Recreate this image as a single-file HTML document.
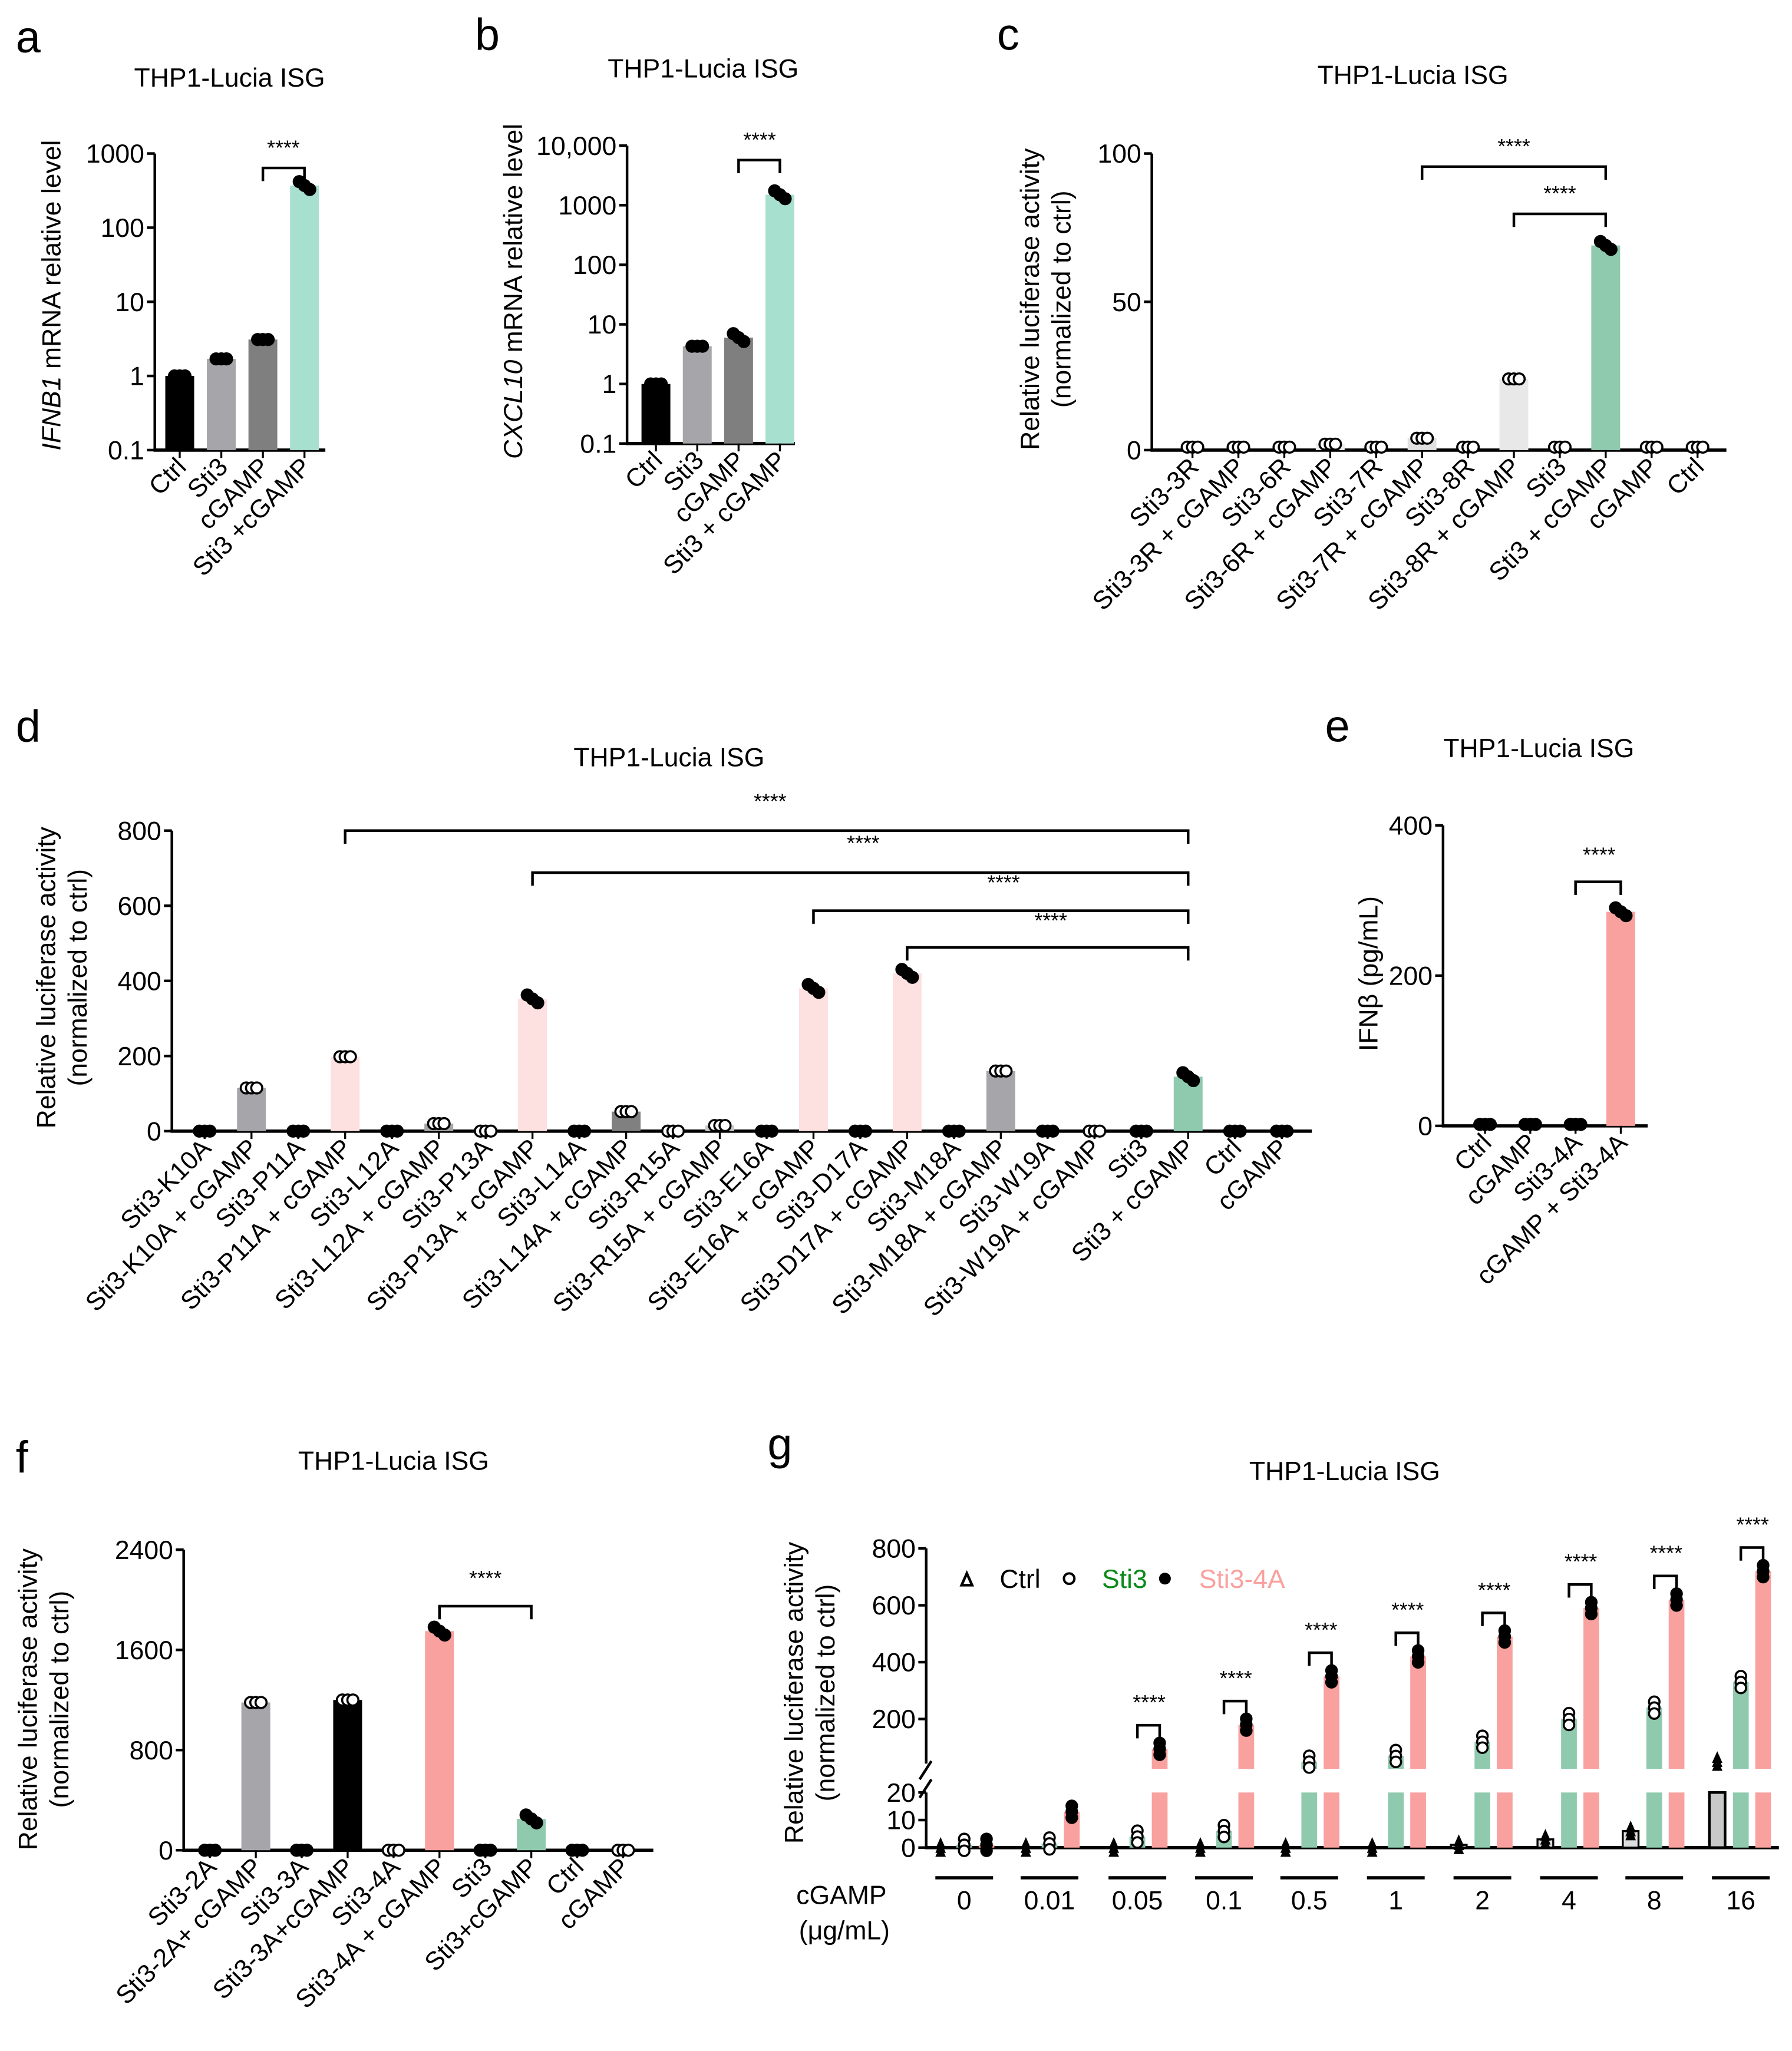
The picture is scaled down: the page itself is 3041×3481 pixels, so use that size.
<!DOCTYPE html>
<html><head><meta charset="utf-8"><style>
html,body{margin:0;padding:0;background:#fff}
svg{display:block}
text{font-family:"Liberation Sans",Arial,sans-serif}
</style></head><body>
<svg id="fig" width="3041" height="3481" viewBox="0 0 1366 1563" preserveAspectRatio="none" xmlns="http://www.w3.org/2000/svg"></svg>
<script>
// ---- data ----
const aCats=["Ctrl","Sti3","cGAMP","Sti3 +cGAMP"];
const aVals=[1.0,1.7,3.1,370];
const bCats=["Ctrl","Sti3","cGAMP","Sti3 + cGAMP"];
const bVals=[1.0,4.3,6.0,1500];
const cCats=["Sti3-3R","Sti3-3R + cGAMP","Sti3-6R","Sti3-6R + cGAMP","Sti3-7R","Sti3-7R + cGAMP","Sti3-8R","Sti3-8R + cGAMP","Sti3","Sti3 + cGAMP","cGAMP","Ctrl"];
const cVals=[1,1,1,2,1,4,1,24,1,69,1,1];
const dCats=["Sti3-K10A","Sti3-K10A + cGAMP","Sti3-P11A","Sti3-P11A + cGAMP","Sti3-L12A","Sti3-L12A + cGAMP","Sti3-P13A","Sti3-P13A + cGAMP","Sti3-L14A","Sti3-L14A + cGAMP","Sti3-R15A","Sti3-R15A + cGAMP","Sti3-E16A","Sti3-E16A + cGAMP","Sti3-D17A","Sti3-D17A + cGAMP","Sti3-M18A","Sti3-M18A + cGAMP","Sti3-W19A","Sti3-W19A + cGAMP","Sti3","Sti3 + cGAMP","Ctrl","cGAMP"];
const dVals=[0,115,0,198,0,20,0,352,0,52,0,15,0,380,0,420,0,160,0,0,0,145,0,0];
const eCats=["Ctrl","cGAMP","Sti3-4A","cGAMP + Sti3-4A"];
const eVals=[2,2,2,285];
const fCats=["Sti3-2A","Sti3-2A+ cGAMP","Sti3-3A","Sti3-3A+cGAMP","Sti3-4A","Sti3-4A + cGAMP","Sti3","Sti3+cGAMP","Ctrl","cGAMP"];
const fVals=[0,1180,0,1200,0,1750,0,250,0,0];
const gDoses=["0","0.01","0.05","0.1","0.5","1","2","4","8","16"];
const gCtrl=[0,0,0,0,0,0,1,3,6,50];
const gSti3=[1,1.5,4,6,50,70,120,200,240,330];
const gSti4A=[1,13,95,180,350,420,490,590,620,720];
const aTicks=["0.1","1","10","100","1000"];
const bTicks=["0.1","1","10","100","1000","10,000"];

const NS="http://www.w3.org/2000/svg";
const svg=document.getElementById('fig');
function el(tag,attrs,parent){const e=document.createElementNS(NS,tag);for(const k in attrs)e.setAttribute(k,attrs[k]);(parent||svg).appendChild(e);return e;}
function txt(x,y,s,size,anchor,parent,extra){const t=el('text',Object.assign({x:x,y:y,'font-size':size,'text-anchor':anchor||'middle',fill:'#000'},extra||{}),parent);t.textContent=s;return t;}
function group(name){const g=el('g',{});return g;}
const TK=20, XL=19.5, TT=20, YL=20;

function panel(o){
  const g=group('panel-'+o.id);
  const L=txt(o.letterX,o.letterY,o.id,34,'start',g);
  
  const T=txt(o.titleX,o.titleY,'THP1-Lucia ISG',TT,'middle',g);
  
  const ya=el('line',{x1:o.ax,y1:o.yTop,x2:o.ax,y2:o.yBot,stroke:'#000','stroke-width':2},g);
  
  const xa=el('line',{x1:o.ax-1,y1:o.yBot,x2:o.axEnd,y2:o.yBot,stroke:'#000','stroke-width':2.5},g);
  
  o.ticks.forEach((tk,i)=>{const y=o.scale(o.tickVals[i]);
    el('line',{x1:o.ax-6,y1:y,x2:o.ax,y2:y,stroke:'#000','stroke-width':2},g);
    const t=txt(o.ax-8,y+7,tk,TK,'end',g);
    });
  const yl=el('text',{x:0,y:0,'font-size':YL,'text-anchor':'middle',fill:'#000',transform:`translate(${o.ylX},${o.ylY}) rotate(-90)`},g);
  
  o.ylabel(yl);
  o.cats.forEach((c,i)=>{
    const x=o.x0+i*o.step;const v=o.vals[i];const y=o.scale(v);
    const col=o.colors[i];
    if(col!=='none'){const b=el('rect',{x:x-o.bw/2,y:Math.min(y,o.yBot),width:o.bw,height:Math.max(0,o.yBot-y),fill:col},g);
      }
    const filled=o.filled[i];
    [-4,0,4].forEach((dx,k)=>{const jy=(k-1)*(filled&&v>5?3:0);
      const p=el('circle',{cx:x+dx,cy:y+jy,r:4.2,fill:filled?'#000':'#fff',stroke:'#000','stroke-width':1.6},g);
      });
    el('line',{x1:x,y1:o.yBot,x2:x,y2:o.yBot+6,stroke:'#000','stroke-width':1.5},g);
    const t=el('text',{x:0,y:0,'font-size':XL,'text-anchor':'end',fill:'#000',transform:`translate(${x+6},${o.yBot+14}) rotate(-45)`},g);
    t.textContent=c;
  });
  (o.brackets||[]).forEach(br=>{
    const xa1=o.x0+br[0]*o.step, xb=o.x0+br[1]*o.step, y=br[2];
    const p=el('path',{d:`M${xa1} ${y+10}V${y}H${xb}V${y+10}`,fill:'none',stroke:'#000','stroke-width':2},g);
    
    const s=txt(br[3],y-br[4],'****',16,'middle',g);
    
  });
}
function logScale(yTop,yBot,dmin,dmax){return v=>yBot-(Math.log10(v)-dmin)/(dmax-dmin)*(yBot-yTop);}
function linScale(yTop,yBot,max){return v=>yBot-v/max*(yBot-yTop);}
function twoLine(t){const a=el('tspan',{x:0,dy:-4},t);a.textContent='Relative luciferase activity';const b=el('tspan',{x:0,dy:24},t);b.textContent='(normalized to ctrl)';}

panel({id:'a',letterX:12,letterY:40,titleX:175,titleY:66,ax:118,axEnd:248,yTop:117,yBot:343,
 scale:logScale(117,343,-1,3),ticks:aTicks,tickVals:[0.1,1,10,100,1000],
 ylX:46,ylY:225,ylabel:t=>{const s=el('tspan',{'font-style':'italic'},t);s.textContent='IFNB1';const s2=el('tspan',{},t);s2.textContent=' mRNA relative level';},
 cats:aCats,vals:aVals,x0:137,step:31.7,bw:22,colors:['#000','#a5a5aa','#7f7f7f','#a8e0d0'],filled:[1,1,1,1],
 brackets:[[2,3,128,216,10]]});
panel({id:'b',letterX:362,letterY:38,titleX:536,titleY:59,ax:478,axEnd:606,yTop:111,yBot:338,
 scale:logScale(111,338,-1,4),ticks:bTicks,tickVals:[0.1,1,10,100,1000,10000],
 ylX:398,ylY:222,ylabel:t=>{const s=el('tspan',{'font-style':'italic'},t);s.textContent='CXCL10';const s2=el('tspan',{},t);s2.textContent=' mRNA relative level';},
 cats:bCats,vals:bVals,x0:500,step:31.5,bw:22,colors:['#000','#a5a5aa','#7f7f7f','#a8e0d0'],filled:[1,1,1,1],
 brackets:[[2,3,122,579,10]]});
panel({id:'c',letterX:760,letterY:38,titleX:1077,titleY:64,ax:878,axEnd:1316,yTop:117,yBot:343,
 scale:linScale(117,343,100),ticks:["0","50","100"],tickVals:[0,50,100],
 ylX:796,ylY:228,ylabel:twoLine,
 cats:cCats,vals:cVals,x0:909,step:35,bw:22,colors:['none','none','none','#ececec','none','#e0e0e0','none','#e8e8e8','none','#8fcaae','none','none'],filled:[0,0,0,0,0,0,0,0,0,1,0,0],
 brackets:[[5,9,127,1154,10],[7,9,163,1189,10]]});
const dCol=['none','#a5a5aa','none','#fde0e0','none','#a5a5aa','none','#fde0e0','none','#808080','none','#c8c8c8','none','#fde0e0','none','#fde0e0','none','#a5a5aa','none','none','none','#8fcaae','none','none'];
panel({id:'d',letterX:12,letterY:565,titleX:510,titleY:584,ax:131,axEnd:1000,yTop:633,yBot:862,
 scale:linScale(633,862,800),ticks:["0","200","400","600","800"],tickVals:[0,200,400,600,800],
 ylX:46,ylY:745,ylabel:twoLine,
 cats:dCats,vals:dVals,x0:156,step:35.7,bw:22,colors:dCol,filled:[1,0,1,0,1,0,0,1,1,0,0,0,1,1,1,1,1,0,1,0,1,1,1,1],
 brackets:[[3,21,633,587,17],[7,21,665,658,17],[13,21,694,765,16],[15,21,722,801,15]]});
panel({id:'e',letterX:1010,letterY:565,titleX:1173,titleY:577,ax:1100,axEnd:1256,yTop:629,yBot:858,
 scale:linScale(629,858,400),ticks:["0","200","400"],tickVals:[0,200,400],
 ylX:1050,ylY:742,ylabel:t=>{t.textContent='IFNβ (pg/mL)';},
 cats:eCats,vals:eVals,x0:1132,step:34.5,bw:22,colors:['none','none','none','#f9a19f'],filled:[1,1,1,1],
 brackets:[[2,3,672,1219,15]]});
panel({id:'f',letterX:12,letterY:1122,titleX:300,titleY:1120,ax:140,axEnd:498,yTop:1181,yBot:1410,
 scale:linScale(1181,1410,2400),ticks:["0","800","1600","2400"],tickVals:[0,800,1600,2400],
 ylX:32,ylY:1295,ylabel:twoLine,
 cats:fCats,vals:fVals,x0:160,step:35,bw:22,colors:['none','#a5a5aa','none','#000','none','#f9a19f','none','#8fcaae','none','none'],filled:[1,0,1,0,0,1,1,1,1,0],
 brackets:[[5,7,1224,370,16]]});

(function(){
  const g=group('panel-g');
  let t=txt(585,1112,'g',34,'start',g);
  t=txt(1025,1128,'THP1-Lucia ISG',TT,'middle',g);
  const ax=706, y0=1408, yLowTop=1366, upBot=1348, upTop=1180;
  const yv=v=> v<=20 ? y0-v/20*(y0-yLowTop) : Math.min(upBot, 1310-(v-200)/600*130);
  const ya1=el('line',{x1:ax,y1:y0,x2:ax,y2:yLowTop,stroke:'#000','stroke-width':2},g);
  
  const ya2=el('line',{x1:ax,y1:upBot-4,x2:ax,y2:upTop,stroke:'#000','stroke-width':2},g);
  
  el('line',{x1:ax-5,y1:upBot+8,x2:ax+4,y2:upBot-6,stroke:'#000','stroke-width':2},g);
  el('line',{x1:ax-5,y1:yLowTop+4,x2:ax+4,y2:yLowTop-10,stroke:'#000','stroke-width':2},g);
  const xa=el('line',{x1:ax-1,y1:y0,x2:1356,y2:y0,stroke:'#000','stroke-width':2.5},g);
  
  [[0,'0'],[10,'10'],[20,'20'],[200,'200'],[400,'400'],[600,'600'],[800,'800']].forEach(p=>{
    const y= p[0]<=20 ? y0-p[0]/20*(y0-yLowTop) : 1310-(p[0]-200)/600*130;
    el('line',{x1:ax-6,y1:y,x2:ax,y2:y,stroke:'#000','stroke-width':2},g);
    const tt=txt(ax-8,y+7,p[1],TK,'end',g);});
  const yl=el('text',{x:0,y:0,'font-size':YL,'text-anchor':'middle',fill:'#000',transform:'translate(616,1290) rotate(-90)'},g);
  
  twoLine(yl);
  const lg=group('legend');g.appendChild(lg);
  el('path',{d:'M733 1208 L737 1199 L741 1208 Z',fill:'none',stroke:'#000','stroke-width':2},lg);
  t=txt(762,1210,'Ctrl',20,'start',lg);
  el('circle',{cx:815,cy:1203,r:4,fill:'#fff',stroke:'#000','stroke-width':1.8},lg);
  t=txt(840,1210,'Sti3',20,'start',lg,{fill:'#0a8a1a'});
  el('circle',{cx:888,cy:1203,r:4.5,fill:'#000'},lg);
  t=txt(914,1210,'Sti3-4A',20,'start',lg,{fill:'#f9a19f'});
  const centers=[735,800,867,933,998,1064,1130,1196,1261,1327];
  gDoses.forEach((d,i)=>{
    const cx=centers[i];
    const xs=[cx-18,cx,cx+17];
    const series=[gCtrl[i],gSti3[i],gSti4A[i]];
    const cols=[i===9?'#c8c8c8':'#ddd','#8fcaae','#f9a19f'];
    series.forEach((v,k)=>{
      const x=xs[k];
      if(v>0.5){
        const bw=12;
        if(v<=20){const r=el('rect',{x:x-bw/2,y:yv(v),width:bw,height:y0-yv(v),fill:cols[k],stroke:k===0?'#000':'none','stroke-width':k===0?1.5:0},g);}
        else{
          const r1=el('rect',{x:x-bw/2,y:yLowTop,width:bw,height:y0-yLowTop,fill:cols[k],stroke:k===0?'#000':'none','stroke-width':k===0?2:0},g);
          
          const yy=yv(v);
          if(yy<upBot){const r2=el('rect',{x:x-bw/2,y:yy,width:bw,height:upBot-yy,fill:k===0?'none':cols[k]},g);
          }
        }
      }
      const py=yv(v);
      [-3,0,3].forEach(dy=>{
        let m;
        if(k===0) m=el('path',{d:`M${x-4} ${py+dy+4} L${x} ${py+dy-5} L${x+4} ${py+dy+4} Z`,fill:'#000'},g);
        else m=el('circle',{cx:x,cy:py+dy*1.5,r:4,fill:k===2?'#000':'#fff',stroke:'#000','stroke-width':1.6},g);
        
      });
    });
    if(i>=2){
      const top=yv(gSti4A[i])-18;
      const br=el('path',{d:`M${xs[1]} ${top+10}V${top}H${xs[2]}V${top+10}`,fill:'none',stroke:'#000','stroke-width':2},g);
      
      const s=txt(cx+9,top-12,'****',16,'middle',g);
    }
    const ul=el('line',{x1:cx-22,y1:1431,x2:cx+22,y2:1431,stroke:'#000','stroke-width':2.5},g);
    
    const dl=txt(cx,1455,d,20,'middle',g);
  });
  t=txt(607,1451,'cGAMP',20,'start',g);
  t=txt(609,1478,'(μg/mL)',20,'start',g);
})();
</script>
</body></html>
